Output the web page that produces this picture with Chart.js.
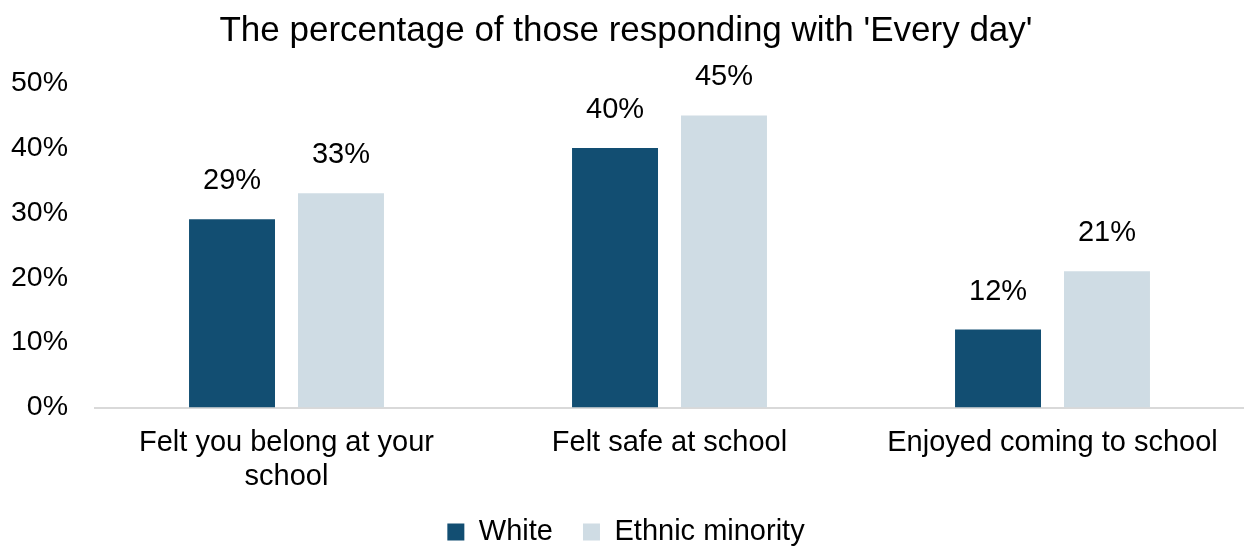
<!DOCTYPE html>
<html>
<head>
<meta charset="utf-8">
<script src="https://cdn.jsdelivr.net/npm/chart.js@4.4.1/dist/chart.umd.min.js"></script>
<style>
html,body{margin:0;padding:0;background:#fff;}
#wrap{width:1244px;height:550px;position:relative;}
</style>
</head>
<body>
<div id="wrap"><canvas id="c" width="1244" height="550"></canvas></div>
<script>
const categories = [["Felt you belong at your", "school"], "Felt safe at school", "Enjoyed coming to school"];
const whiteValues = [29, 40, 12];
const minorityValues = [33, 45, 21];
const seriesNames = ["White", "Ethnic minority"];
const titleText = "The percentage of those responding with 'Every day'";

const FONT = "'Liberation Sans', Arial, sans-serif";

const dataLabels = {
  id: 'dataLabels',
  afterDatasetsDraw(chart) {
    const ctx = chart.ctx;
    ctx.save();
    ctx.font = "29px " + FONT;
    ctx.fillStyle = "#000";
    ctx.textAlign = "center";
    ctx.textBaseline = "alphabetic";
    chart.data.datasets.forEach((ds, i) => {
      const meta = chart.getDatasetMeta(i);
      meta.data.forEach((bar, j) => {
        ctx.fillText(ds.data[j] + "%", bar.x, bar.y - 30);
      });
    });
    ctx.restore();
  }
};

new Chart(document.getElementById('c'), {
  type: 'bar',
  data: {
    labels: categories,
    datasets: [
      { label: seriesNames[0], data: whiteValues, backgroundColor: '#124e72', categoryPercentage: 0.569, barPercentage: 0.789 },
      { label: seriesNames[1], data: minorityValues, backgroundColor: '#cfdce4', categoryPercentage: 0.569, barPercentage: 0.789 }
    ]
  },
  options: {
    responsive: false,
    animation: false,
    layout: { padding: { left: 8, right: 0, top: 4, bottom: -6.5 } },
    plugins: {
      title: { display: true, text: titleText, color: '#000', font: { family: FONT, size: 35, weight: 'normal', lineHeight: 1.2 }, padding: { top: 6, bottom: 31 } },
      legend: {
        position: 'bottom',
        labels: { color: '#000', font: { family: FONT, size: 29 }, boxWidth: 17, boxHeight: 17, padding: 30 }
      },
      tooltip: { enabled: false }
    },
    scales: {
      x: {
        grid: { display: false, drawTicks: false },
        border: { display: true, color: '#d9d9d9', width: 2 },
        afterFit: s => { s.height = 80; },
        ticks: { color: '#000', font: { family: FONT, size: 29, lineHeight: 1.17 }, padding: 19, maxRotation: 0, autoSkip: false }
      },
      y: {
        min: 0, max: 50,
        grid: { display: false, drawTicks: false },
        border: { display: false },
        afterFit: s => { s.width = 87; },
        ticks: { stepSize: 10, color: '#000', font: { family: FONT, size: 28.5 }, padding: 27, callback: v => v + '%' }
      }
    }
  },
  plugins: [dataLabels]
});
</script>
</body>
</html>
